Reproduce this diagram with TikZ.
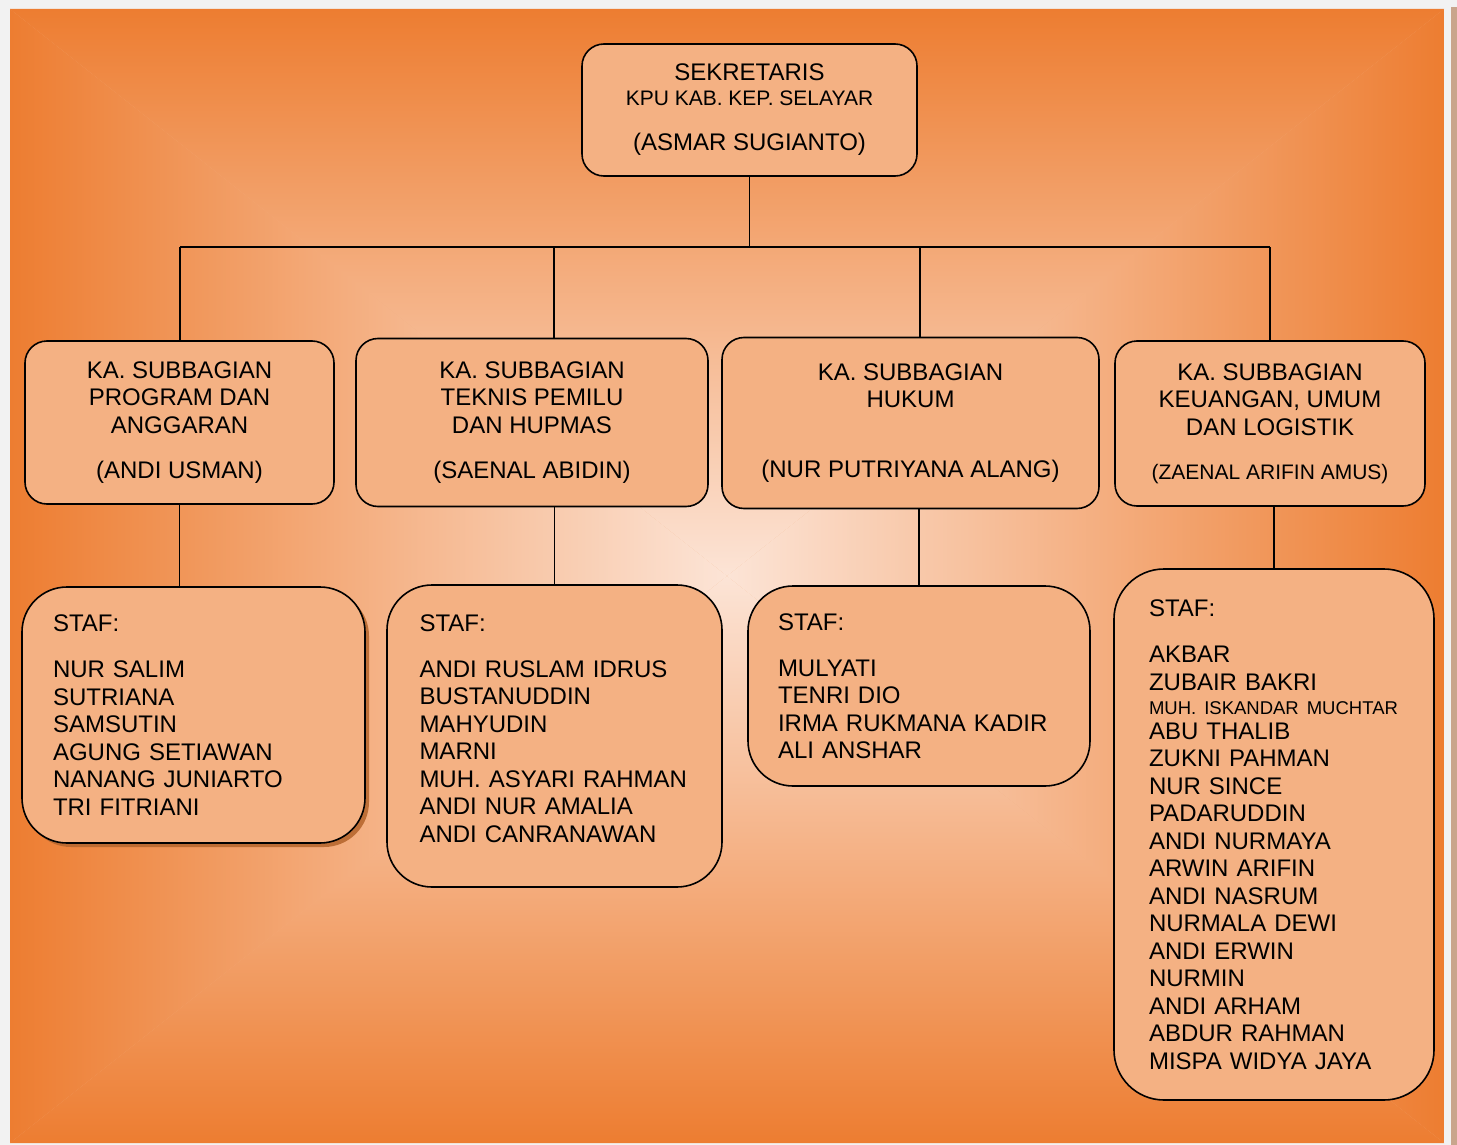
\documentclass[tikz,border=0pt]{standalone}
\usepackage{fontspec}
\setmainfont{Liberation Sans}
\usetikzlibrary{shadows}
\definecolor{KpuOrange}{HTML}{ED7D31}
\definecolor{KpuPeach}{HTML}{FCE4D6}
\definecolor{BoxFill}{HTML}{F4B183}
\definecolor{FrameGray}{HTML}{F2F2F2}
\definecolor{EdgeBrown}{HTML}{C9A58C}
\definecolor{ShadowBrown}{HTML}{B8682F}
\newcommand{\hurufkecil}{\fontsize{21}{27.5}\selectfont}
\newcommand{\hurufmini}{\fontsize{18.5}{27.5}\selectfont}
\frenchspacing

\begin{document}
\begin{tikzpicture}[
  x=1pt, y=-1pt,
  box/.style={draw=black, line width=1.6pt, rounded corners=22pt, fill=BoxFill, align=center, inner sep=0pt, font=\fontsize{24}{27.5}\selectfont},
  stafbox/.style={box, rounded corners=45pt, align=left},
  conn/.style={line width=1.8pt, black}
]
\useasboundingbox (0,0) rectangle (1457,1145);
% latar belakang
\fill[FrameGray] (0,0) rectangle (1457,1145);
\fill[EdgeBrown] (1451,7) rectangle (1457,1145);
\fill[BoxFill] (10,9) rectangle (1444,1143);
\coordinate (mid) at (727,576);
\shade[top color=KpuOrange, bottom color=KpuPeach] (10,9) -- (1444,9) -- (mid) -- cycle;
\shade[top color=KpuPeach, bottom color=KpuOrange] (10,1143) -- (1444,1143) -- (mid) -- cycle;
\shade[left color=KpuOrange, right color=KpuPeach] (10,9) -- (10,1143) -- (mid) -- cycle;
\shade[left color=KpuPeach, right color=KpuOrange] (1444,9) -- (1444,1143) -- (mid) -- cycle;

\node[box, minimum width=335, minimum height=132] (sek) at (749.5,110) {SEKRETARIS\\[-2.5pt]{\hurufkecil KPU KAB. KEP. SELAYAR}\\[17.5pt](ASMAR SUGIANTO)};

\node[box, minimum width=309, minimum height=163] (prog) at (179.5,422.5) {KA. SUBBAGIAN\\PROGRAM DAN\\ANGGARAN\\[17.5pt](ANDI USMAN)};
\node[box, minimum width=352, minimum height=168] (teknis) at (532,422.5) {KA. SUBBAGIAN\\TEKNIS PEMILU\\DAN HUPMAS\\[17.5pt](SAENAL ABIDIN)};
\node[box, minimum width=377, minimum height=171] (hukum) at (910.5,423) {KA. SUBBAGIAN\\HUKUM\\[42.5pt](NUR PUTRIYANA ALANG)};
\node[box, minimum width=310, minimum height=165] (keu) at (1270,423.5) {KA. SUBBAGIAN\\KEUANGAN, UMUM\\DAN LOGISTIK\\[16.5pt]{\hurufkecil (ZAENAL ARIFIN AMUS)}};

\node[stafbox, minimum width=343, minimum height=256, text width=281pt, drop shadow={shadow xshift=4pt, shadow yshift=-4pt, fill=ShadowBrown, opacity=0.9}] (sprog) at (193.5,715) {STAF:\\[18.5pt]NUR SALIM\\SUTRIANA\\SAMSUTIN\\AGUNG SETIAWAN\\NANANG JUNIARTO\\TRI FITRIANI};
\node[stafbox, minimum width=335, minimum height=302, text width=270pt] (steknis) at (554.5,736) {STAF:\\[18.5pt]ANDI RUSLAM IDRUS\\BUSTANUDDIN\\MAHYUDIN\\MARNI\\MUH. ASYARI RAHMAN\\ANDI NUR AMALIA\\ANDI CANRANAWAN\\[-12.5pt]\mbox{}};
\node[stafbox, minimum width=342, minimum height=200, text width=282pt] (shukum) at (919,686) {STAF:\\[18.5pt]MULYATI\\TENRI DIO\\IRMA RUKMANA KADIR\\ALI ANSHAR};
\node[stafbox, rounded corners=50pt, minimum width=320, minimum height=531, text width=250pt] (skeu) at (1274,834.5) {STAF:\\[18.5pt]AKBAR\\ZUBAIR BAKRI\\[-3pt]{\hurufmini MUH. ISKANDAR MUCHTAR}\\[-3pt]ABU THALIB\\ZUKNI PAHMAN\\NUR SINCE\\PADARUDDIN\\ANDI NURMAYA\\ARWIN ARIFIN\\ANDI NASRUM\\NURMALA DEWI\\ANDI ERWIN\\NURMIN\\ANDI ARHAM\\ABDUR RAHMAN\\MISPA WIDYA JAYA};

% garis penghubung
\coordinate (bus1) at (180,247);
\coordinate (bus2) at (554,247);
\coordinate (bus3) at (920,247);
\coordinate (bus4) at (1270,247);
\draw[conn] (sek.south) -- (sek.south |- bus1);
\draw[conn] (bus1) -- (bus4);
\draw[conn] (bus1) -- (bus1 |- prog.north);
\draw[conn] (bus2) -- (bus2 |- teknis.north);
\draw[conn] (bus3) -- (bus3 |- hukum.north);
\draw[conn] (bus4) -- (bus4 |- keu.north);
\draw[conn] (prog.south) -- (prog.south |- sprog.north);
\draw[conn] (steknis.north |- teknis.south) -- (steknis.north);
\draw[conn] (shukum.north |- hukum.south) -- (shukum.north);
\draw[conn] (skeu.north |- keu.south) -- (skeu.north);
\end{tikzpicture}
\end{document}
